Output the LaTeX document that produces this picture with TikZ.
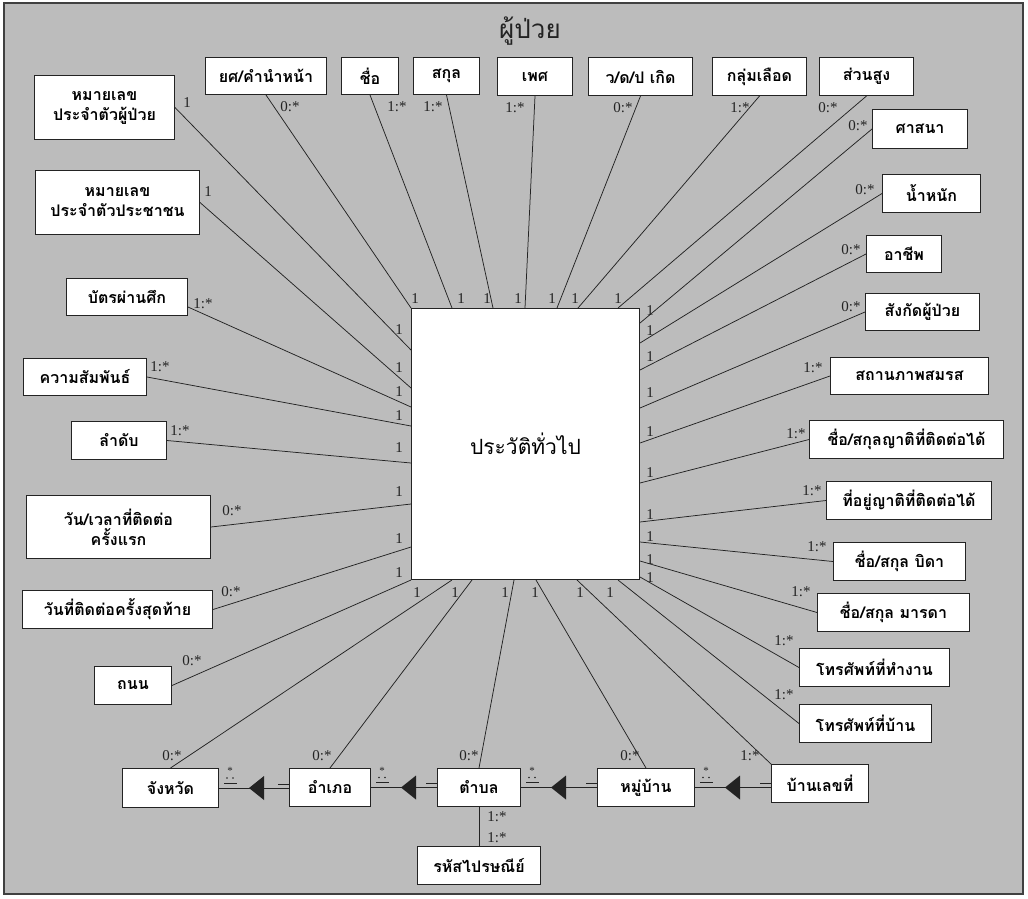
\documentclass[tikz,border=0pt]{standalone}
\usepackage{fontspec}
\setmainfont{Liberation Serif}
\newfontfamily\thai[Script=Thai]{Loma}
\usetikzlibrary{calc}
\definecolor{paper}{RGB}{188,188,188}
\definecolor{ink}{RGB}{35,35,35}
\newcommand\entbox[6]{\node[ent, minimum width={#4-#2}, minimum height={#5-#3}] (#1) at (#2,#3) {#6};}
% association with reading-direction triangle between two chained entities
\newcommand\chainlink[2]{%
  \draw[link] (#1.east) -- (#1.east -| #2.west);
  \fill[ink] ($(#1.east)+(30,0)$) -- ++(15,-12) -- ++(0,24) -- cycle;
  \node[font=\fontsize{11}{11}\selectfont, inner sep=0pt, text=ink] (#1-star) at ($(#1.east)+(11,-17)$) {*};
  \fill[ink] ($(#1.east)+(8,-10)$) circle (0.9) ($(#1.east)+(14,-10)$) circle (0.9);
  \draw[link] ($(#1.east)+(5,-5)$) -- ++(13,0);
  \draw[link] ($(#1.east -| #2.west)+(-11,-4)$) -- ++(11,0);
}
\begin{document}
\begin{tikzpicture}[x=1pt,y=-1pt,
  ent/.style={draw=ink, line width=1pt, fill=white, anchor=north west, inner sep=0pt,
    font=\thai\bfseries\fontsize{16}{20}\selectfont, align=center},
  link/.style={draw=ink, line width=0.75pt},
  mult/.style={font=\fontsize{15}{15}\selectfont, inner sep=0pt, text=ink},
]
\useasboundingbox (0,0) rectangle (1028,898);
\fill[white] (0,0) rectangle (1028,898);
\draw[fill=paper, draw=black!75, line width=1.2pt] (4,3) rectangle (1023,894);

\node[font=\thai\fontsize{26}{28}\selectfont, text=ink] (title) at (530,31) {ผู้ป่วย};

% central entity
\node[ent, minimum width=228, minimum height=271, font=\thai\fontsize{21}{24}\selectfont] (gen) at (411,308) {ประวัติทั่วไป};

% top row
\entbox{yot}{205}{57}{326}{94}{ยศ/คำนำหน้า}
\entbox{fname}{341}{57}{398}{94}{ชื่อ}
\entbox{sur}{413}{57}{479}{94}{สกุล}
\entbox{sex}{497}{57}{572}{95}{เพศ}
\entbox{dob}{588}{57}{692}{95}{ว/ด/ป เกิด}
\entbox{blood}{712}{57}{806}{95}{กลุ่มเลือด}
\entbox{height}{819}{57}{913}{95}{ส่วนสูง}
% right column
\entbox{relig}{872}{109}{967}{148}{ศาสนา}
\entbox{weight}{882}{174}{980}{212}{น้ำหนัก}
\entbox{occ}{866}{235}{941}{272}{อาชีพ}
\entbox{affil}{865}{293}{979}{330}{สังกัดผู้ป่วย}
\entbox{marital}{830}{357}{988}{394}{สถานภาพสมรส}
\entbox{kinname}{809}{420}{1003}{458}{ชื่อ/สกุลญาติที่ติดต่อได้}
\entbox{kinaddr}{826}{481}{991}{519}{ที่อยู่ญาติที่ติดต่อได้}
\entbox{father}{833}{542}{965}{580}{ชื่อ/สกุล บิดา}
\entbox{mother}{817}{593}{969}{631}{ชื่อ/สกุล มารดา}
\entbox{telw}{799}{648}{949}{686}{โทรศัพท์ที่ทำงาน}
\entbox{telh}{799}{704}{931}{742}{โทรศัพท์ที่บ้าน}
% address chain
\entbox{house}{771}{764}{868}{802}{บ้านเลขที่}
\entbox{vill}{597}{768}{694}{806}{หมู่บ้าน}
\entbox{tambon}{437}{768}{520}{806}{ตำบล}
\entbox{amphoe}{289}{768}{370}{806}{อำเภอ}
\entbox{prov}{122}{768}{218}{807}{จังหวัด}
\entbox{post}{417}{846}{540}{884}{รหัสไปรษณีย์}
% left column
\entbox{road}{94}{666}{171}{704}{ถนน}
\entbox{lastc}{22}{590}{212}{628}{วันที่ติดต่อครั้งสุดท้าย}
\entbox{firstc}{26}{495}{210}{558}{วัน/เวลาที่ติดต่อ\\ครั้งแรก}
\entbox{order}{71}{421}{166}{459}{ลำดับ}
\entbox{rel}{23}{358}{146}{395}{ความสัมพันธ์}
\entbox{vet}{66}{278}{187}{315}{บัตรผ่านศึก}
\entbox{cid}{35}{170}{199}{234}{หมายเลข\\ประจำตัวประชาชน}
\entbox{pid}{34}{75}{174}{139}{หมายเลข\\ประจำตัวผู้ป่วย}

% top edge
\draw[link] (yot.south) -- (gen.north west);
\draw[link] (fname.south) -- ([xshift=41pt]gen.north west);
\draw[link] (sur.south) -- ([xshift=82pt]gen.north west);
\draw[link] (sex.south) -- ([xshift=114pt]gen.north west);
\draw[link] (dob.south) -- ([xshift=146pt]gen.north west);
\draw[link] (blood.south) -- ([xshift=167pt]gen.north west);
\draw[link] (height.south) -- ([xshift=207pt]gen.north west);
% right edge
\draw[link] (relig.west) -- ([yshift=-15pt]gen.north east);
\draw[link] (weight.west) -- ([yshift=-35pt]gen.north east);
\draw[link] (occ.west) -- ([yshift=-62pt]gen.north east);
\draw[link] (affil.west) -- ([yshift=-100pt]gen.north east);
\draw[link] (marital.west) -- ([yshift=-135pt]gen.north east);
\draw[link] (kinname.west) -- ([yshift=-175pt]gen.north east);
\draw[link] (kinaddr.west) -- ([yshift=-214pt]gen.north east);
\draw[link] (father.west) -- ([yshift=-234pt]gen.north east);
\draw[link] (mother.west) -- ([yshift=-253pt]gen.north east);
\draw[link] (telw.west) -- ([yshift=3pt]gen.south east);
% bottom edge
\draw[link] (telh.west) -- ([xshift=207pt]gen.south west);
\draw[link] (house.north west) -- ([xshift=166pt]gen.south west);
\draw[link] (vill.north) -- ([xshift=125pt]gen.south west);
\draw[link] (tambon.north) -- ([xshift=103pt]gen.south west);
\draw[link] (amphoe.north) -- ([xshift=61pt]gen.south west);
\draw[link] (prov.north) -- ([xshift=41pt]gen.south west);
% left edge
\draw[link] (road.east) -- (gen.south west);
\draw[link] (lastc.east) -- ([yshift=-239pt]gen.north west);
\draw[link] (firstc.east) -- ([yshift=-196pt]gen.north west);
\draw[link] (order.east) -- ([yshift=-155pt]gen.north west);
\draw[link] (rel.east) -- ([yshift=-118pt]gen.north west);
\draw[link] ([yshift=-10pt]vet.east) -- ([yshift=-99pt]gen.north west);
\draw[link] (cid.east) -- ([yshift=-80pt]gen.north west);
\draw[link] (pid.east) -- ([yshift=-42pt]gen.north west);
% postal code
\draw[link] (tambon.south) -- (post.north);

% address chain associations
\chainlink{prov}{amphoe}
\chainlink{amphoe}{tambon}
\chainlink{tambon}{vill}
\chainlink{vill}{house}

% multiplicities at the attribute ends
\foreach \x/\y/\t [count=\i] in {
  187/103/1, 208/192/1, 203/304/1:*, 160/367/1:*, 180/431/1:*, 232/511/0:*,
  231/592/0:*, 192/661/0:*, 172/756/0:*, 322/756/0:*, 469/756/0:*, 630/756/0:*,
  750/756/1:*, 784/695/1:*, 784/641/1:*, 801/592/1:*, 817/547/1:*, 812/491/1:*,
  796/434/1:*, 813/368/1:*, 851/307/0:*, 851/250/0:*, 865/190/0:*, 858/126/0:*,
  828/108/0:*, 740/108/1:*, 623/108/0:*, 515/108/1:*, 433/107/1:*, 397/107/1:*,
  290/107/0:*, 497/817/1:*, 497/838/1:*}
  \node[mult] (far\i) at (\x,\y) {\t};

% multiplicities at the central entity
\foreach \x/\y [count=\i] in {
  415/299, 461/299, 487/299, 518/299, 552/299, 575/299, 618/299,
  650/311, 650/331, 650/357, 650/393, 650/432, 650/473, 650/515, 650/537, 650/560, 650/578,
  417/593, 455/593, 505/593, 535/593, 580/593, 610/593,
  399/330, 399/368, 399/392, 399/416, 399/448, 399/492, 399/539, 399/573}
  \node[mult] (near\i) at (\x,\y) {1};
\end{tikzpicture}
\end{document}
